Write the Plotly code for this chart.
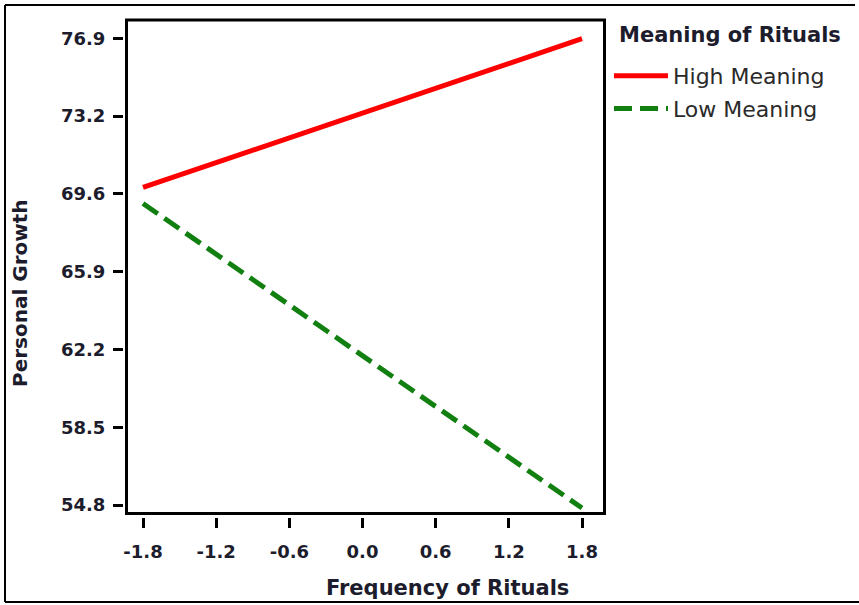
import plotly.graph_objects as go

x_vals = [-1.8, 1.8]
high_meaning = [69.84, 76.88]
low_meaning = [69.08, 54.66]
x_tickvals = [-1.8, -1.2, -0.6, 0.0, 0.6, 1.2, 1.8]
x_ticktext = ["-1.8", "-1.2", "-0.6", "0.0", "0.6", "1.2", "1.8"]
y_ticktext = ["54.8", "58.5", "62.2", "65.9", "69.6", "73.2", "76.9"]
y_tickvals = [54.8 + i * (76.9 - 54.8) / 6 for i in range(7)]

W, H = 859, 605
# plot area in page pixels
L, R, T, B = 124, 606, 18, 517
pw, ph = R - L, B - T

def px(x):
    return (x - L) / pw

def py(y):
    return (B - y) / ph

FONT = "DejaVu Sans, Verdana, sans-serif"
txt = "#1c1c2c"
fig = go.Figure()
fig.add_trace(go.Scatter(x=x_vals, y=high_meaning, mode="lines", name="High Meaning",
                         legendgroup="a",
                         line=dict(color="#ff0000", width=5)))
fig.add_trace(go.Scatter(x=x_vals, y=low_meaning, mode="lines", name="Low Meaning",
                         legendgroup="b",
                         line=dict(color="#118011", width=5, dash="18px,8px")))

tickfont = dict(size=18, color=txt, family=FONT, weight="bold")
fig.update_layout(
    width=W, height=H,
    margin=dict(l=L, r=W - R, t=T, b=H - B, pad=0),
    plot_bgcolor="white", paper_bgcolor="white",
    font=dict(family=FONT, color=txt),
    showlegend=True,
    legend=dict(
        font=dict(size=22, color="#2a2a2a", family=FONT),
        x=px(609), y=py(55), xanchor="left", yanchor="top",
        bgcolor="rgba(0,0,0,0)", itemwidth=54, tracegroupgap=1,
        traceorder="grouped",
    ),
    xaxis=dict(
        range=[-1.9558, 1.9968], tickvals=x_tickvals, ticktext=x_ticktext,
        showgrid=False, zeroline=False, showline=False,
        ticks="outside", ticklen=10, tickwidth=3, tickcolor="black",
        tickfont=tickfont, ticklabelstandoff=8,
    ),
    yaxis=dict(
        range=[54.232, 77.861], tickvals=y_tickvals, ticktext=y_ticktext,
        showgrid=False, zeroline=False, showline=False,
        ticks="outside", ticklen=10, tickwidth=3, tickcolor="black",
        tickfont=tickfont, ticklabelstandoff=4,
    ),
    annotations=[
        dict(text="<b>Frequency of Rituals</b>", xref="paper", yref="paper",
             x=px(447), y=py(588), xanchor="center", yanchor="middle", showarrow=False,
             font=dict(size=21, color=txt, family=FONT)),
        dict(text="<b>Personal Growth</b>", xref="paper", yref="paper",
             x=px(20), y=py(293), xanchor="center", yanchor="middle", showarrow=False,
             textangle=-90, font=dict(size=20, color=txt, family=FONT)),
        dict(text="<b>Meaning of Rituals</b>", xref="paper", yref="paper",
             x=px(617), y=py(35), xanchor="left", yanchor="middle", showarrow=False,
             font=dict(size=21, color=txt, family=FONT)),
    ],
    shapes=[
        dict(type="rect", xref="paper", yref="paper", x0=px(126.5), x1=px(604.5),
             y0=py(513.5), y1=py(20), line=dict(color="black", width=3), layer="above"),
        dict(type="line", xref="paper", yref="paper", x0=px(5), x1=px(5), y0=py(602), y1=py(5),
             line=dict(color="black", width=2)),
        dict(type="line", xref="paper", yref="paper", x0=px(5), x1=px(855), y0=py(5), y1=py(5),
             line=dict(color="black", width=2)),
        dict(type="line", xref="paper", yref="paper", x0=px(5), x1=px(859), y0=py(602), y1=py(602),
             line=dict(color="black", width=2)),
    ],
)

fig.write_html("out.html", config={"displayModeBar": False},
               post_script="document.body.style.margin='0px';")
